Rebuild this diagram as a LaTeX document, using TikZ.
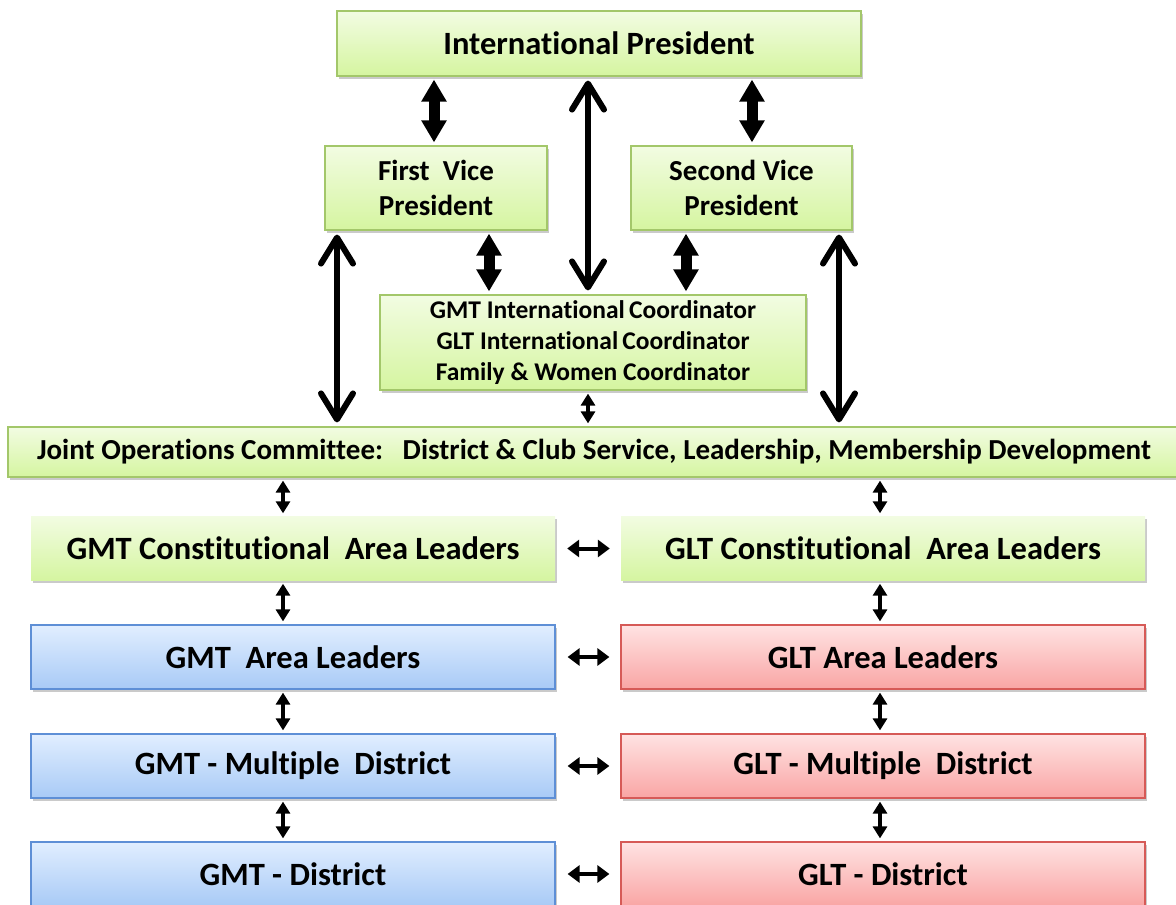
\documentclass[tikz,border=0pt]{standalone}
\usepackage{fontspec}
\setmainfont{Carlito}[Ligatures=NoCommon]
\usetikzlibrary{arrows.meta,shadows}
\definecolor{gtop}{HTML}{F2FCE2}
\definecolor{gbot}{HTML}{D5F5A0}
\definecolor{gline}{HTML}{A3C76A}
\definecolor{btop}{HTML}{E1EEFF}
\definecolor{bbot}{HTML}{A8CAF6}
\definecolor{bline}{HTML}{5E8FD6}
\definecolor{rtop}{HTML}{FFE3E3}
\definecolor{rbot}{HTML}{F9A5A4}
\definecolor{rline}{HTML}{D65A57}
\tikzset{
  box/.style={rectangle, inner sep=0pt, align=center, font=\bfseries, text=black,
    drop shadow={shadow xshift=2pt, shadow yshift=-2.5pt, opacity=0.35, fill=black!60}},
  greenbox/.style={box, draw=gline, line width=1.2pt, top color=gtop, bottom color=gbot},
  greenplain/.style={box, top color=gtop, bottom color=gbot},
  bluebox/.style={box, draw=bline, line width=1.2pt, top color=btop, bottom color=bbot},
  redbox/.style={box, draw=rline, line width=1.2pt, top color=rtop, bottom color=rbot},
  bigarrow/.style={line width=11pt, {Triangle[length=22pt,width=24pt]}-{Triangle[length=22pt,width=24pt]}, shorten <=3pt, shorten >=3pt},
  barbarrow/.style={line width=6pt, line cap=round, {Straight Barb[length=26pt,width=32pt,round]}-{Straight Barb[length=26pt,width=32pt,round]}, shorten <=4pt, shorten >=4pt},
  smallarrow/.style={line width=4pt, {Triangle[length=12pt,width=14pt]}-{Triangle[length=12pt,width=14pt]}, shorten <=3pt, shorten >=3pt},
  harrow/.style={line width=4pt, {Triangle[length=12pt,width=17pt]}-{Triangle[length=12pt,width=17pt]}}
}
\begin{document}
\begin{tikzpicture}[x=1pt,y=-1pt]
\useasboundingbox (0,0) rectangle (1176,905);
% top level
\node[greenbox, minimum width=524pt, minimum height=65pt, font=\bfseries\fontsize{32.5}{36}\selectfont] (ip) at (599,43.5) {International President};
\node[greenbox, minimum width=222pt, minimum height=84pt, font=\bfseries\fontsize{29}{35}\selectfont] (fvp) at (436,188) {First\ \ Vice\\President};
\node[greenbox, minimum width=221pt, minimum height=84pt, font=\bfseries\fontsize{29}{35}\selectfont] (svp) at (741.5,188) {Second Vice\\President};
\node[greenbox, minimum width=426pt, minimum height=95pt, font=\bfseries\fontsize{25.5}{31}\selectfont] (coord) at (593,342.5) {GMT International\,Coordinator\\GLT International\,Coordinator\\Family \& Women Coordinator};
\node[greenbox, minimum width=1172pt, minimum height=50pt, font=\bfseries\fontsize{29}{32}\selectfont] (joc) at (594,452) {Joint Operations Committee:\ \ \ District \& Club Service, Leadership, Membership Development};
% rows
\tikzset{rowfont/.style={font=\bfseries\fontsize{32.5}{36}\selectfont, minimum width=524pt, minimum height=64pt}}
\node[greenplain, rowfont] (gmtc) at (293,548.5) {GMT Constitutional\ \ Area Leaders};
\node[greenplain, rowfont] (gltc) at (883,548.5) {GLT Constitutional\ \ Area Leaders};
\node[bluebox, rowfont] (gmta) at (293,657) {GMT\ \ Area Leaders};
\node[redbox, rowfont] (glta) at (883,657) {GLT Area Leaders};
\node[bluebox, rowfont] (gmtm) at (293,766) {GMT - Multiple\ \ District};
\node[redbox, rowfont] (gltm) at (883,766) {GLT - Multiple\ \ District};
\node[bluebox, rowfont] (gmtd) at (293,874) {GMT - District};
\node[redbox, rowfont] (gltd) at (883,874) {GLT - District};
% coordinates for connector ends
\coordinate (a1) at (434,0);
\coordinate (a2) at (588,0);
\coordinate (a3) at (752,0);
\coordinate (a4) at (489,0);
\coordinate (a5) at (686,0);
\coordinate (a6) at (337,0);
\coordinate (a7) at (839,0);
\coordinate (a8) at (283,0);
\coordinate (a9) at (880,0);
% big arrows
\draw[bigarrow] (ip.south -| a1) -- (fvp.north -| a1);
\draw[bigarrow] (ip.south -| a3) -- (svp.north -| a3);
\draw[bigarrow] (fvp.south -| a4) -- (coord.north -| a4);
\draw[bigarrow] (svp.south -| a5) -- (coord.north -| a5);
% barb arrows
\draw[barbarrow] (ip.south -| a2) -- (coord.north -| a2);
\draw[barbarrow] (fvp.south -| a6) -- (joc.north -| a6);
\draw[barbarrow] (svp.south -| a7) -- (joc.north -| a7);
% small arrows
\draw[smallarrow] (coord.south -| a2) -- (joc.north -| a2);
\draw[smallarrow] (joc.south -| a8) -- (gmtc.north -| a8);
\draw[smallarrow] (joc.south -| a9) -- (gltc.north -| a9);
\draw[smallarrow] (gmtc.south -| a8) -- (gmta.north -| a8);
\draw[smallarrow] (gltc.south -| a9) -- (glta.north -| a9);
\draw[smallarrow] (gmta.south -| a8) -- (gmtm.north -| a8);
\draw[smallarrow] (glta.south -| a9) -- (gltm.north -| a9);
\draw[smallarrow] (gmtm.south -| a8) -- (gmtd.north -| a8);
\draw[smallarrow] (gltm.south -| a9) -- (gltd.north -| a9);
% horizontal arrows
\draw[harrow] ([xshift=12pt]gmtc.east) -- ([xshift=-11pt]gltc.west);
\draw[harrow] ([xshift=12pt]gmta.east) -- ([xshift=-11pt]glta.west);
\draw[harrow] ([xshift=12pt]gmtm.east) -- ([xshift=-11pt]gltm.west);
\draw[harrow] ([xshift=12pt]gmtd.east) -- ([xshift=-11pt]gltd.west);
\end{tikzpicture}
\end{document}
